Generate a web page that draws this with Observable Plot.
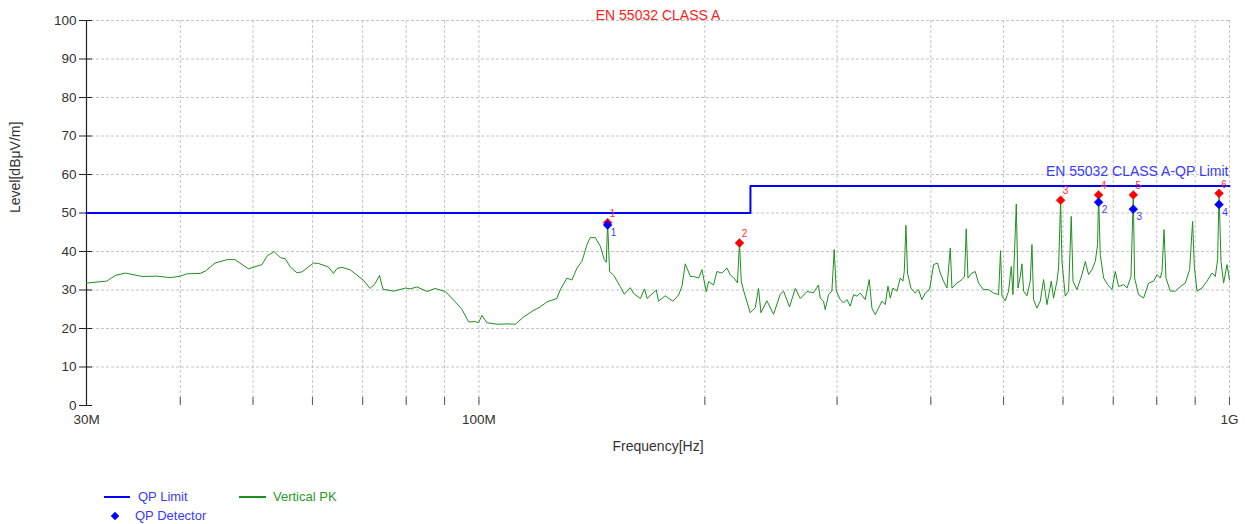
<!DOCTYPE html>
<html><head><meta charset="utf-8">
<script src="https://cdn.jsdelivr.net/npm/d3@7"></script>
<script src="https://cdn.jsdelivr.net/npm/@observablehq/plot@0.6"></script>
<style>
body{margin:0;background:#fff;font-family:"Liberation Sans",Arial,sans-serif;}
#wrap{position:relative;width:1245px;height:524px;}
.lg{position:absolute;font-size:13px;line-height:16px;white-space:nowrap;}
.ln{position:absolute;height:0;}
.dm{position:absolute;width:6px;height:6px;background:#0000ff;transform:rotate(45deg);}
</style></head><body><div id="wrap"></div>
<script>
// Vertical PK trace: frequency in MHz, level in dBµV/m
const traceFreq = [
30.0,31.9,32.8,33.8,35.6,37.2,38.8,40.0,40.8,42.5,43.2,44.5,46.2,47.3,49.3,51.4,52.2,53.3,54.4,55.2,56.1,57.2,58.1,60.2,61.1,63.0,64.0,64.7,65.7,67.4,70.2,71.6,72.7,73.7,74.5,77.0,79.8,81.0,
82.7,85.3,87.4,90.2,92.5,94.9,96.9,98.9,99.9,100.9,102.5,105.7,109.0,111.8,114.7,118.2,120.7,123.2,127.0,128.3,131.0,133.0,135.1,137.2,139.3,140.7,142.9,145.1,146.9,147.8,148.4,149.3,151.1,154.3,156.2,159.1,160.7,164.1,166.2,167.5,172.3,173.5,177.1,181.3,184.5,186.4,188.3,191.3,193.2,196.2,198.2,200.8,202.3,205.4,207.5,210.7,214.0,216.2,
218.4,221.0,222.4,223.6,225.2,229.8,233.4,235.8,237.5,241.9,246.9,252.0,254.6,259.3,263.9,268.0,273.5,279.1,283.4,
284.9,287.8,289.3,292.3,295.3,297.4,299.3,303.0,306.0,309.2,312.4,315.6,318.9,322.1,327.1,331.1,333.9,337.3,340.7,344.3,347.8,350.7,353.2,356.1,360.5,364.2,367.2,368.7,370.6,372.4,376.3,381.3,385.2,389.2,393.2,398.4,403.4,408.3,411.7,415.9,420.3,424.6,426.8,433.4,440.1,443.6,445.9,448.3,453.8,458.4,463.1,470.2,477.5,484.9,492.4,495.4,497.6,502.6,507.7,512.0,514.6,519.9,522.6,526.3,529.0,531.7,
537.2,542.7,545.5,548.2,554.0,559.6,565.3,571.2,578.8,582.9,589.0,591.9,595.6,598.1,604.2,610.4,615.4,618.7,626.3,636.0,642.5,649.0,655.8,662.5,667.2,669.2,672.7,679.6,688.0,697.3,704.4,711.6,722.6,730.2,739.2,744.4,747.4,756.6,768.3,780.2,792.3,800.6,808.7,813.0,818.0,823.0,833.9,846.8,860.0,873.2,884.8,893.0,897.7,905.2,919.1,933.3,947.8,957.4,964.2,968.4,974.3,982.1,992.4,1000
];
const traceLevel = [
31.8,32.3,33.8,34.4,33.5,33.6,33.2,33.6,34.2,34.3,34.9,37.0,37.9,37.9,35.5,36.6,38.8,40.0,38.4,38.1,35.9,34.5,34.7,37.0,36.9,36.0,34.3,35.6,35.9,35.2,32.5,30.4,31.6,33.8,30.2,29.7,30.5,30.3,
30.8,29.6,30.4,29.6,27.4,25.0,21.7,21.8,21.5,23.4,21.5,21.1,21.2,21.1,23.0,24.7,25.6,26.9,27.8,30.0,33.1,32.6,35.7,37.5,41.8,43.6,43.6,41.4,37.9,37.2,47.5,34.8,33.9,30.9,28.9,30.6,29.1,27.8,30.3,27.8,30.0,27.1,28.5,27.1,28.7,30.9,36.8,33.5,33.5,33.1,35.3,29.6,32.2,31.3,34.8,34.4,35.7,33.9,
33.2,31.9,42.2,32.3,29.9,24.1,25.4,30.4,24.1,27.2,23.7,28.9,29.7,25.6,30.4,27.8,29.6,29.3,31.3,
27.9,27.1,24.9,28.8,29.7,40.5,29.7,27.5,26.6,27.5,25.8,28.8,28.4,29.2,27.5,32.7,25.3,23.6,25.3,27.1,26.2,31.0,27.9,30.5,29.7,33.1,32.3,34.8,46.8,34.4,30.5,29.2,30.1,27.5,29.2,30.1,36.6,37.0,34.4,32.3,30.5,40.9,30.5,31.8,32.7,33.5,45.9,33.1,34.4,34.8,31.8,30.1,30.1,29.2,28.8,40.2,28.4,27.2,29.7,36.1,28.8,52.3,30.5,33.5,36.8,29.7,
28.5,32.3,41.8,27.5,25.3,27.1,32.7,26.2,32.3,27.9,32.3,35.7,53.3,37.4,28.4,29.7,49.1,32.3,30.1,34.0,37.4,34.0,35.3,37.4,41.8,54.7,39.2,33.1,31.4,30.1,34.8,30.9,31.4,30.5,33.5,54.7,33.1,28.8,27.9,31.8,32.3,34.0,33.1,34.8,45.7,33.1,29.7,29.7,30.9,31.8,35.3,47.8,36.1,29.7,30.5,32.3,34.4,33.5,37.9,55.1,37.4,31.8,36.6,32.7
];
// QP limit (EN 55032 Class A)
const limitFreq = [30, 230, 230, 1000];
const limitLevel = [50, 50, 57, 57];
// Peak markers
const pkFreq = [148.4, 222.4, 595.6, 669.2, 744.4, 968.4];
const pkLevel = [47.5, 42.2, 53.3, 54.7, 54.7, 55.1];
const pkLabel = ["1", "2", "3", "4", "5", "6"];
// QP detector markers
const qpFreq = [148.4, 669.2, 744.4, 968.4];
const qpLevel = [46.9, 52.8, 51.0, 52.2];
const qpLabel = ["1", "2", "3", "4"];
// Axes
const yTicks = [0, 10, 20, 30, 40, 50, 60, 70, 80, 90, 100];
const xGrid = [30, 40, 50, 60, 70, 80, 90, 100, 200, 300, 400, 500, 600, 700, 800, 900, 1000];
const xLabelVals = [30, 100, 1000];
const xLabelText = ["30M", "100M", "1G"];

const W = 1245, H = 470, ML = 86, MR = 16, MT = 20, MB = 65;
const plotW = W - ML - MR, plotH = H - MT - MB;

const trace = traceFreq.map((f, i) => ({f, l: traceLevel[i]}));
const limit = limitFreq.map((f, i) => ({f, l: limitLevel[i]}));
const pk = pkFreq.map((f, i) => ({f, l: pkLevel[i], t: pkLabel[i]}));
const qp = qpFreq.map((f, i) => ({f, l: qpLevel[i], t: qpLabel[i]}));

const chart = Plot.plot({
  width: W, height: H,
  marginLeft: ML, marginRight: MR, marginTop: MT, marginBottom: MB,
  style: {fontFamily: '"Liberation Sans", Arial, sans-serif', background: "#fff", overflow: "visible"},
  x: {type: "log", domain: [30, 1000]},
  y: {domain: [0, 100]},
  marks: [
    Plot.ruleY(yTicks.filter(d => d > 0), {y: d => d, stroke: "#c4c4c4", strokeDasharray: "3,2"}),
    Plot.ruleX(xGrid, {x: d => d, stroke: "#c4c4c4", strokeDasharray: "3,2"}),
    Plot.ruleX(xGrid, {x: d => d, insetTop: plotH - 8, stroke: "#555"}),
    Plot.ruleX([xGrid[0]], {x: d => d, stroke: "#222", strokeWidth: 1.2}),
    Plot.ruleY(yTicks, {y: d => d, insetRight: plotW - 6, stroke: "#222"}),
    Plot.axisY({ticks: yTicks, tickSize: 7, tickPadding: 3, fontSize: 13.5, label: null, color: "#333", stroke: "#222"}),
    Plot.axisX({ticks: xLabelVals, tickSize: 0, tickPadding: 9, fontSize: 13.5, label: null, color: "#333",
      tickFormat: d => xLabelText[xLabelVals.indexOf(d)]}),
    Plot.line(trace, {x: "f", y: "l", stroke: "#1f8f1f", strokeWidth: 1}),
    Plot.line(limit, {x: "f", y: "l", stroke: "#0000ff", strokeWidth: 2}),
    Plot.text(limit.slice(-1), {x: "f", y: "l", text: () => "EN 55032 CLASS A-QP Limit", textAnchor: "end", lineAnchor: "bottom", dx: -1, dy: -10, fill: "#3a3aff", fontSize: 14}),
    Plot.dot(pk, {x: "f", y: "l", symbol: "diamond2", r: 4, fill: "#ff0000", stroke: "#ff0000", strokeWidth: 0.5}),
    Plot.dot(qp, {x: "f", y: "l", symbol: "diamond2", r: 4, fill: "#0000ff", stroke: "#0000ff", strokeWidth: 0.5}),
    Plot.text(pk, {x: "f", y: "l", text: "t", dx: 5, dy: -9, fill: "#ff3030", fontSize: 10}),
    Plot.text(qp, {x: "f", y: "l", text: "t", dx: 6, dy: 8, fill: "#3a3aff", fontSize: 10}),
    Plot.text(["EN 55032 CLASS A"], {frameAnchor: "top", text: d => d, dy: -10, fill: "#ff2020", fontSize: 14}),
    Plot.text(["Frequency[Hz]"], {frameAnchor: "bottom", text: d => d, dy: 45, fill: "#333", fontSize: 14}),
    Plot.text(["Level[dBμV/m]"], {frameAnchor: "left", text: d => d, rotate: -90, dx: -71, fill: "#333", fontSize: 14})
  ]
});
const wrap = document.getElementById("wrap");
wrap.appendChild(chart);

// Legend (below the SVG)
function add(html){ wrap.insertAdjacentHTML("beforeend", html); }
add('<div class="ln" style="left:104px;top:496px;width:26px;border-top:2px solid #0000ff"></div>');
add('<div class="lg" style="left:138px;top:489px;color:#3a3aff">QP Limit</div>');
add('<div class="ln" style="left:239px;top:496px;width:27px;border-top:2px solid #1f8f1f"></div>');
add('<div class="lg" style="left:273px;top:489px;color:#2a9a2a">Vertical PK</div>');
add('<div class="dm" style="left:112px;top:513px"></div>');
add('<div class="lg" style="left:135px;top:508px;color:#3a3aff">QP Detector</div>');
</script></body></html>
